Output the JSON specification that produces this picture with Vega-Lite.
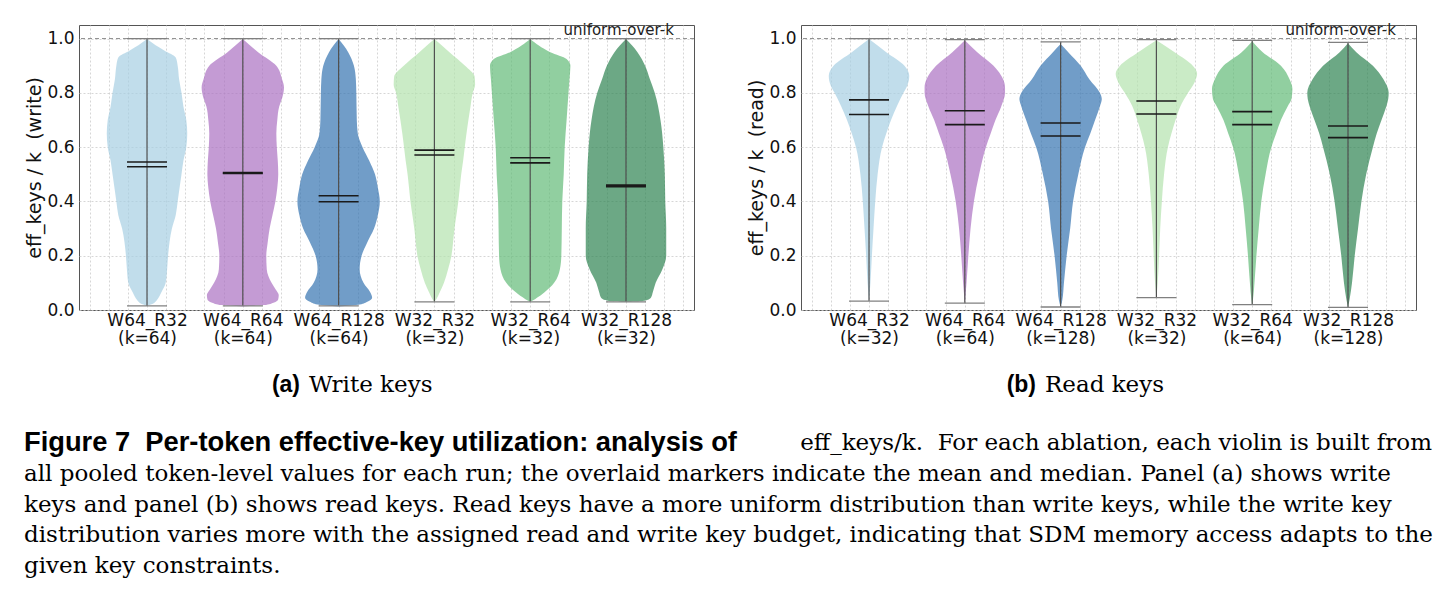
{
  "$schema": "https://vega.github.io/schema/vega-lite/v6.json",
  "background": "white",
  "padding": {"left": 24, "top": 22, "right": 0, "bottom": 0},
  "spacing": 0,
  "vconcat": [
    {
      "spacing": 0,
      "hconcat": [
        {
          "width": 1,
          "height": 285,
          "view": {"stroke": null},
          "data": {"values": []},
          "mark": "point"
        },
        {
          "spacing": 52,
          "hconcat": [
            {
              "width": 615,
              "height": 285,
              "resolve": {"axis": {"x": "independent"}},
              "layer": [
                {
                  "data": {"name": "writeDensity"},
                  "transform": [
                    {"lookup": "run", "from": {"data": {"name": "writeStats"}, "key": "run", "fields": ["g"]}},
                    {"calculate": "datum.g - datum.w", "as": "xl"},
                    {"calculate": "datum.g + datum.w", "as": "xr"}
                  ],
                  "mark": {"type": "area", "orient": "horizontal", "interpolate": "monotone", "fillOpacity": 0.7, "strokeWidth": 0},
                  "encoding": {
                    "y": {
                      "field": "v", "type": "quantitative",
                      "scale": {"domain": [0, 1.05], "nice": false, "zero": false},
                      "axis": {
                        "title": "eff_keys / k \u00a0(write)",
                        "values": [0, 0.05, 0.1, 0.15, 0.2, 0.25, 0.3, 0.35, 0.4, 0.45, 0.5, 0.55, 0.6, 0.65, 0.7, 0.75, 0.8, 0.85, 0.9, 0.95, 1.0],
                        "labelExpr": "abs(datum.value * 5 - round(datum.value * 5)) < 0.001 ? format(datum.value, '.1f') : ''",
                        "labelPadding": 5,
                        "titlePadding": 2
                      }
                    },
                    "x": {
                      "field": "xl", "type": "quantitative",
                      "scale": {"domain": [0.29, 6.71], "nice": false, "zero": false},
                      "axis": {
                        "orient": "bottom",
                        "title": null,
                        "values": [1, 2, 3, 4, 5, 6],
                        "labelExpr": "datum.value == 1 ? ['W64_R32', '(k=64)'] : datum.value == 2 ? ['W64_R64', '(k=64)'] : datum.value == 3 ? ['W64_R128', '(k=64)'] : datum.value == 4 ? ['W32_R32', '(k=32)'] : datum.value == 5 ? ['W32_R64', '(k=32)'] : ['W32_R128', '(k=32)']",
                        "labelPadding": 2,
                        "labelLineHeight": 18,
                        "labelOverlap": false,
                        "labelFlush": false
                      }
                    },
                    "x2": {"field": "xr"},
                    "color": {
                      "field": "run", "type": "nominal", "legend": null,
                      "scale": {
                        "domain": ["W64_R32", "W64_R64", "W64_R128", "W32_R32", "W32_R64", "W32_R128"],
                        "range": ["#a6cee3", "#ab70c2", "#3473b0", "#b3e2ae", "#63ba77", "#2d8351"]
                      }
                    }
                  }
                },
                {
                  "data": {"values": [{}]},
                  "mark": {"type": "rule", "color": "#8c8c8c", "strokeDash": [4, 3], "strokeWidth": 1},
                  "encoding": {"y": {"datum": 1}}
                },
                {
                  "data": {"values": [{}]},
                  "mark": {"type": "text", "align": "right", "baseline": "alphabetic", "dy": -4, "font": "DejaVu Sans", "fontSize": 15, "color": "#222222"},
                  "encoding": {"x": {"datum": 6.5, "axis": null}, "y": {"datum": 1}, "text": {"value": "uniform-over-k"}}
                },
                {
                  "data": {"name": "writeStats"},
                  "mark": {"type": "rule", "color": "#505050", "strokeWidth": 1.2},
                  "encoding": {
                    "x": {
                      "field": "g", "type": "quantitative",
                      "axis": {
                        "orient": "top", "title": null, "labels": false, "ticks": false, "domain": false, "grid": true,
                        "values": [0.4, 0.6, 0.8, 1.2, 1.4, 1.6, 1.8, 2.2, 2.4, 2.6, 2.8, 3.2, 3.4, 3.6, 3.8, 4.2, 4.4, 4.6, 4.8, 5.2, 5.4, 5.6, 5.8, 6.2, 6.4, 6.6]
                      }
                    },
                    "y": {"field": "min", "type": "quantitative"},
                    "y2": {"field": "max"}
                  }
                },
                {
                  "data": {"name": "writeStats"},
                  "mark": {"type": "tick", "orient": "horizontal", "size": 40, "thickness": 1.3, "color": "#808080", "opacity": 1},
                  "encoding": {"x": {"field": "g", "type": "quantitative", "axis": null}, "y": {"field": "min", "type": "quantitative"}}
                },
                {
                  "data": {"name": "writeStats"},
                  "mark": {"type": "tick", "orient": "horizontal", "size": 40, "thickness": 1.3, "color": "#808080", "opacity": 1},
                  "encoding": {"x": {"field": "g", "type": "quantitative", "axis": null}, "y": {"field": "max", "type": "quantitative"}}
                },
                {
                  "data": {"name": "writeStats"},
                  "mark": {"type": "tick", "orient": "horizontal", "size": 40, "thickness": 1.6, "color": "#1a1a1a", "opacity": 1},
                  "encoding": {"x": {"field": "g", "type": "quantitative", "axis": null}, "y": {"field": "mean", "type": "quantitative"}}
                },
                {
                  "data": {"name": "writeStats"},
                  "mark": {"type": "tick", "orient": "horizontal", "size": 40, "thickness": 1.6, "color": "#1a1a1a", "opacity": 1},
                  "encoding": {"x": {"field": "g", "type": "quantitative", "axis": null}, "y": {"field": "median", "type": "quantitative"}}
                }
              ]
            },
            {
              "width": 615,
              "height": 285,
              "resolve": {"axis": {"x": "independent"}},
              "layer": [
                {
                  "data": {"name": "readDensity"},
                  "transform": [
                    {"lookup": "run", "from": {"data": {"name": "readStats"}, "key": "run", "fields": ["g"]}},
                    {"calculate": "datum.g - datum.w", "as": "xl"},
                    {"calculate": "datum.g + datum.w", "as": "xr"}
                  ],
                  "mark": {"type": "area", "orient": "horizontal", "interpolate": "monotone", "fillOpacity": 0.7, "strokeWidth": 0},
                  "encoding": {
                    "y": {
                      "field": "v", "type": "quantitative",
                      "scale": {"domain": [0, 1.05], "nice": false, "zero": false},
                      "axis": {
                        "title": "eff_keys / k \u00a0(read)",
                        "values": [0, 0.05, 0.1, 0.15, 0.2, 0.25, 0.3, 0.35, 0.4, 0.45, 0.5, 0.55, 0.6, 0.65, 0.7, 0.75, 0.8, 0.85, 0.9, 0.95, 1.0],
                        "labelExpr": "abs(datum.value * 5 - round(datum.value * 5)) < 0.001 ? format(datum.value, '.1f') : ''",
                        "labelPadding": 5,
                        "titlePadding": 2
                      }
                    },
                    "x": {
                      "field": "xl", "type": "quantitative",
                      "scale": {"domain": [0.29, 6.71], "nice": false, "zero": false},
                      "axis": {
                        "orient": "bottom",
                        "title": null,
                        "values": [1, 2, 3, 4, 5, 6],
                        "labelExpr": "datum.value == 1 ? ['W64_R32', '(k=32)'] : datum.value == 2 ? ['W64_R64', '(k=64)'] : datum.value == 3 ? ['W64_R128', '(k=128)'] : datum.value == 4 ? ['W32_R32', '(k=32)'] : datum.value == 5 ? ['W32_R64', '(k=64)'] : ['W32_R128', '(k=128)']",
                        "labelPadding": 2,
                        "labelLineHeight": 18,
                        "labelOverlap": false,
                        "labelFlush": false
                      }
                    },
                    "x2": {"field": "xr"},
                    "color": {
                      "field": "run", "type": "nominal", "legend": null,
                      "scale": {
                        "domain": ["W64_R32", "W64_R64", "W64_R128", "W32_R32", "W32_R64", "W32_R128"],
                        "range": ["#a6cee3", "#ab70c2", "#3473b0", "#b3e2ae", "#63ba77", "#2d8351"]
                      }
                    }
                  }
                },
                {
                  "data": {"values": [{}]},
                  "mark": {"type": "rule", "color": "#8c8c8c", "strokeDash": [4, 3], "strokeWidth": 1},
                  "encoding": {"y": {"datum": 1}}
                },
                {
                  "data": {"values": [{}]},
                  "mark": {"type": "text", "align": "right", "baseline": "alphabetic", "dy": -4, "font": "DejaVu Sans", "fontSize": 15, "color": "#222222"},
                  "encoding": {"x": {"datum": 6.5, "axis": null}, "y": {"datum": 1}, "text": {"value": "uniform-over-k"}}
                },
                {
                  "data": {"name": "readStats"},
                  "mark": {"type": "rule", "color": "#505050", "strokeWidth": 1.2},
                  "encoding": {
                    "x": {
                      "field": "g", "type": "quantitative",
                      "axis": {
                        "orient": "top", "title": null, "labels": false, "ticks": false, "domain": false, "grid": true,
                        "values": [0.4, 0.6, 0.8, 1.2, 1.4, 1.6, 1.8, 2.2, 2.4, 2.6, 2.8, 3.2, 3.4, 3.6, 3.8, 4.2, 4.4, 4.6, 4.8, 5.2, 5.4, 5.6, 5.8, 6.2, 6.4, 6.6]
                      }
                    },
                    "y": {"field": "min", "type": "quantitative"},
                    "y2": {"field": "max"}
                  }
                },
                {
                  "data": {"name": "readStats"},
                  "mark": {"type": "tick", "orient": "horizontal", "size": 40, "thickness": 1.3, "color": "#808080", "opacity": 1},
                  "encoding": {"x": {"field": "g", "type": "quantitative", "axis": null}, "y": {"field": "min", "type": "quantitative"}}
                },
                {
                  "data": {"name": "readStats"},
                  "mark": {"type": "tick", "orient": "horizontal", "size": 40, "thickness": 1.3, "color": "#808080", "opacity": 1},
                  "encoding": {"x": {"field": "g", "type": "quantitative", "axis": null}, "y": {"field": "max", "type": "quantitative"}}
                },
                {
                  "data": {"name": "readStats"},
                  "mark": {"type": "tick", "orient": "horizontal", "size": 40, "thickness": 1.6, "color": "#1a1a1a", "opacity": 1},
                  "encoding": {"x": {"field": "g", "type": "quantitative", "axis": null}, "y": {"field": "mean", "type": "quantitative"}}
                },
                {
                  "data": {"name": "readStats"},
                  "mark": {"type": "tick", "orient": "horizontal", "size": 40, "thickness": 1.6, "color": "#1a1a1a", "opacity": 1},
                  "encoding": {"x": {"field": "g", "type": "quantitative", "axis": null}, "y": {"field": "median", "type": "quantitative"}}
                }
              ]
            }
          ]
        }
      ]
    },
    {
      "width": 1408,
      "height": 76,
      "view": {"stroke": null},
      "data": {"name": "subcaptions"},
      "encoding": {
        "x": {"field": "panel", "type": "nominal", "axis": null, "scale": {"type": "point", "padding": 0, "range": [280, 1016]}}
      },
      "layer": [
        {
          "mark": {"type": "text", "align": "right", "baseline": "middle", "dx": -4, "font": "Liberation Sans", "fontWeight": "bold", "fontSize": 23, "color": "#000000"},
          "encoding": {"text": {"field": "tag"}}
        },
        {
          "mark": {"type": "text", "align": "left", "baseline": "middle", "dx": 5, "font": "DejaVu Serif", "fontSize": 23, "color": "#000000"},
          "encoding": {"text": {"field": "name"}}
        }
      ]
    },
    {
      "width": 1408,
      "height": 163,
      "view": {"stroke": null},
      "data": {"name": "caption"},
      "encoding": {
        "y": {"field": "line", "type": "ordinal", "axis": null, "scale": {"type": "point", "padding": 0.65}}
      },
      "layer": [
        {
          "transform": [{"filter": "datum.part == 'head'"}],
          "mark": {"type": "text", "align": "left", "baseline": "middle", "font": "Liberation Sans", "fontWeight": "bold", "fontSize": 27.3, "color": "#000000"},
          "encoding": {"x": {"value": 0}, "text": {"field": "text"}}
        },
        {
          "transform": [{"filter": "datum.part == 'body'"}],
          "mark": {"type": "text", "align": "left", "baseline": "middle", "font": "DejaVu Serif", "fontSize": 23, "color": "#000000"},
          "encoding": {"x": {"value": 0}, "text": {"field": "text"}}
        },
        {
          "transform": [{"filter": "datum.part == 'tail'"}],
          "mark": {"type": "text", "align": "right", "baseline": "middle", "font": "DejaVu Serif", "fontSize": 23, "color": "#000000"},
          "encoding": {"x": {"value": "width"}, "text": {"field": "text"}}
        }
      ]
    }
  ],
  "datasets": {
    "writeStats": [
      {"run": "W64_R32", "k": 64, "g": 1, "mean": 0.545, "median": 0.528, "min": 0.015, "max": 1.0},
      {"run": "W64_R64", "k": 64, "g": 2, "mean": 0.506, "median": 0.503, "min": 0.015, "max": 1.0},
      {"run": "W64_R128", "k": 64, "g": 3, "mean": 0.421, "median": 0.399, "min": 0.015, "max": 1.0},
      {"run": "W32_R32", "k": 32, "g": 4, "mean": 0.571, "median": 0.589, "min": 0.03, "max": 1.0},
      {"run": "W32_R64", "k": 32, "g": 5, "mean": 0.542, "median": 0.561, "min": 0.03, "max": 1.0},
      {"run": "W32_R128", "k": 32, "g": 6, "mean": 0.454, "median": 0.46, "min": 0.03, "max": 1.0}
    ],
    "readStats": [
      {"run": "W64_R32", "k": 32, "g": 1, "mean": 0.72, "median": 0.774, "min": 0.033, "max": 1.0},
      {"run": "W64_R64", "k": 64, "g": 2, "mean": 0.683, "median": 0.734, "min": 0.025, "max": 0.996},
      {"run": "W64_R128", "k": 128, "g": 3, "mean": 0.641, "median": 0.689, "min": 0.011, "max": 0.988},
      {"run": "W32_R32", "k": 32, "g": 4, "mean": 0.722, "median": 0.77, "min": 0.0455, "max": 0.996},
      {"run": "W32_R64", "k": 64, "g": 5, "mean": 0.683, "median": 0.731, "min": 0.0197, "max": 0.993},
      {"run": "W32_R128", "k": 128, "g": 6, "mean": 0.635, "median": 0.678, "min": 0.01, "max": 0.986}
    ],
    "writeDensity": [
      {"run": "W64_R32", "v": 0.015, "w": 0}, {"run": "W64_R32", "v": 0.025, "w": 0.07}, {"run": "W64_R32", "v": 0.035, "w": 0.1},
      {"run": "W64_R32", "v": 0.065, "w": 0.15}, {"run": "W64_R32", "v": 0.1, "w": 0.195}, {"run": "W64_R32", "v": 0.15, "w": 0.21},
      {"run": "W64_R32", "v": 0.2, "w": 0.22}, {"run": "W64_R32", "v": 0.25, "w": 0.235}, {"run": "W64_R32", "v": 0.3, "w": 0.26},
      {"run": "W64_R32", "v": 0.35, "w": 0.3}, {"run": "W64_R32", "v": 0.4, "w": 0.32}, {"run": "W64_R32", "v": 0.45, "w": 0.34},
      {"run": "W64_R32", "v": 0.5, "w": 0.36}, {"run": "W64_R32", "v": 0.55, "w": 0.38}, {"run": "W64_R32", "v": 0.6, "w": 0.41},
      {"run": "W64_R32", "v": 0.65, "w": 0.42}, {"run": "W64_R32", "v": 0.7, "w": 0.41}, {"run": "W64_R32", "v": 0.75, "w": 0.38},
      {"run": "W64_R32", "v": 0.8, "w": 0.36}, {"run": "W64_R32", "v": 0.85, "w": 0.335}, {"run": "W64_R32", "v": 0.9, "w": 0.32},
      {"run": "W64_R32", "v": 0.93, "w": 0.3}, {"run": "W64_R32", "v": 0.956, "w": 0.18}, {"run": "W64_R32", "v": 0.975, "w": 0.09},
      {"run": "W64_R32", "v": 0.998, "w": 0},

      {"run": "W64_R64", "v": 0.013, "w": 0}, {"run": "W64_R64", "v": 0.018, "w": 0.22}, {"run": "W64_R64", "v": 0.027, "w": 0.32},
      {"run": "W64_R64", "v": 0.04, "w": 0.37}, {"run": "W64_R64", "v": 0.055, "w": 0.375}, {"run": "W64_R64", "v": 0.075, "w": 0.345},
      {"run": "W64_R64", "v": 0.1, "w": 0.3}, {"run": "W64_R64", "v": 0.15, "w": 0.25}, {"run": "W64_R64", "v": 0.2, "w": 0.245},
      {"run": "W64_R64", "v": 0.25, "w": 0.26}, {"run": "W64_R64", "v": 0.3, "w": 0.28}, {"run": "W64_R64", "v": 0.35, "w": 0.31},
      {"run": "W64_R64", "v": 0.4, "w": 0.34}, {"run": "W64_R64", "v": 0.45, "w": 0.36}, {"run": "W64_R64", "v": 0.5, "w": 0.37},
      {"run": "W64_R64", "v": 0.55, "w": 0.365}, {"run": "W64_R64", "v": 0.6, "w": 0.355}, {"run": "W64_R64", "v": 0.65, "w": 0.35},
      {"run": "W64_R64", "v": 0.7, "w": 0.36}, {"run": "W64_R64", "v": 0.75, "w": 0.38}, {"run": "W64_R64", "v": 0.78, "w": 0.41},
      {"run": "W64_R64", "v": 0.82, "w": 0.43}, {"run": "W64_R64", "v": 0.85, "w": 0.41}, {"run": "W64_R64", "v": 0.9, "w": 0.35},
      {"run": "W64_R64", "v": 0.95, "w": 0.16}, {"run": "W64_R64", "v": 0.998, "w": 0},

      {"run": "W64_R128", "v": 0.013, "w": 0}, {"run": "W64_R128", "v": 0.02, "w": 0.22}, {"run": "W64_R128", "v": 0.03, "w": 0.3},
      {"run": "W64_R128", "v": 0.045, "w": 0.35}, {"run": "W64_R128", "v": 0.065, "w": 0.33}, {"run": "W64_R128", "v": 0.1, "w": 0.26},
      {"run": "W64_R128", "v": 0.15, "w": 0.22}, {"run": "W64_R128", "v": 0.2, "w": 0.24}, {"run": "W64_R128", "v": 0.25, "w": 0.3},
      {"run": "W64_R128", "v": 0.3, "w": 0.37}, {"run": "W64_R128", "v": 0.35, "w": 0.41}, {"run": "W64_R128", "v": 0.4, "w": 0.43},
      {"run": "W64_R128", "v": 0.45, "w": 0.41}, {"run": "W64_R128", "v": 0.5, "w": 0.38}, {"run": "W64_R128", "v": 0.55, "w": 0.32},
      {"run": "W64_R128", "v": 0.6, "w": 0.25}, {"run": "W64_R128", "v": 0.65, "w": 0.2}, {"run": "W64_R128", "v": 0.7, "w": 0.19},
      {"run": "W64_R128", "v": 0.8, "w": 0.185}, {"run": "W64_R128", "v": 0.85, "w": 0.18}, {"run": "W64_R128", "v": 0.9, "w": 0.16},
      {"run": "W64_R128", "v": 0.95, "w": 0.1}, {"run": "W64_R128", "v": 0.998, "w": 0},

      {"run": "W32_R32", "v": 0.03, "w": 0}, {"run": "W32_R32", "v": 0.04, "w": 0.02}, {"run": "W32_R32", "v": 0.065, "w": 0.056},
      {"run": "W32_R32", "v": 0.1, "w": 0.1}, {"run": "W32_R32", "v": 0.15, "w": 0.143}, {"run": "W32_R32", "v": 0.2, "w": 0.178},
      {"run": "W32_R32", "v": 0.25, "w": 0.195}, {"run": "W32_R32", "v": 0.3, "w": 0.21}, {"run": "W32_R32", "v": 0.35, "w": 0.23},
      {"run": "W32_R32", "v": 0.4, "w": 0.25}, {"run": "W32_R32", "v": 0.45, "w": 0.265}, {"run": "W32_R32", "v": 0.5, "w": 0.28},
      {"run": "W32_R32", "v": 0.55, "w": 0.3}, {"run": "W32_R32", "v": 0.6, "w": 0.317}, {"run": "W32_R32", "v": 0.65, "w": 0.335},
      {"run": "W32_R32", "v": 0.7, "w": 0.355}, {"run": "W32_R32", "v": 0.75, "w": 0.377}, {"run": "W32_R32", "v": 0.8, "w": 0.4},
      {"run": "W32_R32", "v": 0.83, "w": 0.425}, {"run": "W32_R32", "v": 0.86, "w": 0.42}, {"run": "W32_R32", "v": 0.9, "w": 0.32},
      {"run": "W32_R32", "v": 0.95, "w": 0.157}, {"run": "W32_R32", "v": 0.998, "w": 0},

      {"run": "W32_R64", "v": 0.03, "w": 0}, {"run": "W32_R64", "v": 0.04, "w": 0.05}, {"run": "W32_R64", "v": 0.065, "w": 0.15},
      {"run": "W32_R64", "v": 0.1, "w": 0.25}, {"run": "W32_R64", "v": 0.15, "w": 0.31}, {"run": "W32_R64", "v": 0.2, "w": 0.325},
      {"run": "W32_R64", "v": 0.3, "w": 0.33}, {"run": "W32_R64", "v": 0.4, "w": 0.335}, {"run": "W32_R64", "v": 0.5, "w": 0.35},
      {"run": "W32_R64", "v": 0.6, "w": 0.36}, {"run": "W32_R64", "v": 0.7, "w": 0.38}, {"run": "W32_R64", "v": 0.8, "w": 0.4},
      {"run": "W32_R64", "v": 0.85, "w": 0.41}, {"run": "W32_R64", "v": 0.9, "w": 0.42}, {"run": "W32_R64", "v": 0.925, "w": 0.38},
      {"run": "W32_R64", "v": 0.95, "w": 0.21}, {"run": "W32_R64", "v": 0.998, "w": 0},

      {"run": "W32_R128", "v": 0.03, "w": 0}, {"run": "W32_R128", "v": 0.032, "w": 0.15}, {"run": "W32_R128", "v": 0.037, "w": 0.22},
      {"run": "W32_R128", "v": 0.045, "w": 0.26}, {"run": "W32_R128", "v": 0.065, "w": 0.28}, {"run": "W32_R128", "v": 0.1, "w": 0.31},
      {"run": "W32_R128", "v": 0.15, "w": 0.38}, {"run": "W32_R128", "v": 0.2, "w": 0.42}, {"run": "W32_R128", "v": 0.3, "w": 0.42},
      {"run": "W32_R128", "v": 0.4, "w": 0.41}, {"run": "W32_R128", "v": 0.5, "w": 0.405}, {"run": "W32_R128", "v": 0.6, "w": 0.39},
      {"run": "W32_R128", "v": 0.7, "w": 0.36}, {"run": "W32_R128", "v": 0.8, "w": 0.3}, {"run": "W32_R128", "v": 0.85, "w": 0.25},
      {"run": "W32_R128", "v": 0.9, "w": 0.2}, {"run": "W32_R128", "v": 0.95, "w": 0.12}, {"run": "W32_R128", "v": 0.998, "w": 0}
    ],
    "readDensity": [
      {"run": "W64_R32", "v": 0.033, "w": 0}, {"run": "W64_R32", "v": 0.1, "w": 0.015}, {"run": "W64_R32", "v": 0.2, "w": 0.03},
      {"run": "W64_R32", "v": 0.3, "w": 0.047}, {"run": "W64_R32", "v": 0.4, "w": 0.065}, {"run": "W64_R32", "v": 0.5, "w": 0.09},
      {"run": "W64_R32", "v": 0.6, "w": 0.136}, {"run": "W64_R32", "v": 0.65, "w": 0.18}, {"run": "W64_R32", "v": 0.7, "w": 0.23},
      {"run": "W64_R32", "v": 0.75, "w": 0.29}, {"run": "W64_R32", "v": 0.8, "w": 0.36}, {"run": "W64_R32", "v": 0.827, "w": 0.4},
      {"run": "W64_R32", "v": 0.863, "w": 0.42}, {"run": "W64_R32", "v": 0.9, "w": 0.37}, {"run": "W64_R32", "v": 0.95, "w": 0.18},
      {"run": "W64_R32", "v": 0.998, "w": 0},

      {"run": "W64_R64", "v": 0.025, "w": 0}, {"run": "W64_R64", "v": 0.1, "w": 0.018}, {"run": "W64_R64", "v": 0.2, "w": 0.037},
      {"run": "W64_R64", "v": 0.3, "w": 0.06}, {"run": "W64_R64", "v": 0.4, "w": 0.095}, {"run": "W64_R64", "v": 0.5, "w": 0.15},
      {"run": "W64_R64", "v": 0.6, "w": 0.22}, {"run": "W64_R64", "v": 0.65, "w": 0.27}, {"run": "W64_R64", "v": 0.7, "w": 0.32},
      {"run": "W64_R64", "v": 0.75, "w": 0.38}, {"run": "W64_R64", "v": 0.8, "w": 0.42}, {"run": "W64_R64", "v": 0.82, "w": 0.42},
      {"run": "W64_R64", "v": 0.85, "w": 0.4}, {"run": "W64_R64", "v": 0.9, "w": 0.3}, {"run": "W64_R64", "v": 0.95, "w": 0.13},
      {"run": "W64_R64", "v": 0.994, "w": 0},

      {"run": "W64_R128", "v": 0.011, "w": 0}, {"run": "W64_R128", "v": 0.035, "w": 0.017}, {"run": "W64_R128", "v": 0.1, "w": 0.035},
      {"run": "W64_R128", "v": 0.2, "w": 0.063}, {"run": "W64_R128", "v": 0.3, "w": 0.1}, {"run": "W64_R128", "v": 0.4, "w": 0.13},
      {"run": "W64_R128", "v": 0.5, "w": 0.185}, {"run": "W64_R128", "v": 0.6, "w": 0.255}, {"run": "W64_R128", "v": 0.65, "w": 0.31},
      {"run": "W64_R128", "v": 0.7, "w": 0.36}, {"run": "W64_R128", "v": 0.75, "w": 0.41}, {"run": "W64_R128", "v": 0.777, "w": 0.43},
      {"run": "W64_R128", "v": 0.8, "w": 0.41}, {"run": "W64_R128", "v": 0.85, "w": 0.3}, {"run": "W64_R128", "v": 0.9, "w": 0.21},
      {"run": "W64_R128", "v": 0.95, "w": 0.08}, {"run": "W64_R128", "v": 0.98, "w": 0},

      {"run": "W32_R32", "v": 0.0455, "w": 0}, {"run": "W32_R32", "v": 0.1, "w": 0.014}, {"run": "W32_R32", "v": 0.2, "w": 0.028},
      {"run": "W32_R32", "v": 0.3, "w": 0.04}, {"run": "W32_R32", "v": 0.4, "w": 0.057}, {"run": "W32_R32", "v": 0.5, "w": 0.08},
      {"run": "W32_R32", "v": 0.6, "w": 0.12}, {"run": "W32_R32", "v": 0.65, "w": 0.157}, {"run": "W32_R32", "v": 0.7, "w": 0.2},
      {"run": "W32_R32", "v": 0.75, "w": 0.25}, {"run": "W32_R32", "v": 0.8, "w": 0.33}, {"run": "W32_R32", "v": 0.84, "w": 0.4},
      {"run": "W32_R32", "v": 0.87, "w": 0.425}, {"run": "W32_R32", "v": 0.9, "w": 0.38}, {"run": "W32_R32", "v": 0.95, "w": 0.19},
      {"run": "W32_R32", "v": 0.994, "w": 0},

      {"run": "W32_R64", "v": 0.02, "w": 0}, {"run": "W32_R64", "v": 0.035, "w": 0.007}, {"run": "W32_R64", "v": 0.1, "w": 0.024},
      {"run": "W32_R64", "v": 0.2, "w": 0.044}, {"run": "W32_R64", "v": 0.3, "w": 0.068}, {"run": "W32_R64", "v": 0.4, "w": 0.095},
      {"run": "W32_R64", "v": 0.5, "w": 0.14}, {"run": "W32_R64", "v": 0.6, "w": 0.2}, {"run": "W32_R64", "v": 0.65, "w": 0.25},
      {"run": "W32_R64", "v": 0.7, "w": 0.3}, {"run": "W32_R64", "v": 0.75, "w": 0.37}, {"run": "W32_R64", "v": 0.777, "w": 0.41},
      {"run": "W32_R64", "v": 0.814, "w": 0.42}, {"run": "W32_R64", "v": 0.85, "w": 0.39}, {"run": "W32_R64", "v": 0.9, "w": 0.3},
      {"run": "W32_R64", "v": 0.95, "w": 0.11}, {"run": "W32_R64", "v": 0.99, "w": 0},

      {"run": "W32_R128", "v": 0.01, "w": 0}, {"run": "W32_R128", "v": 0.04, "w": 0.017}, {"run": "W32_R128", "v": 0.1, "w": 0.042},
      {"run": "W32_R128", "v": 0.2, "w": 0.07}, {"run": "W32_R128", "v": 0.3, "w": 0.105}, {"run": "W32_R128", "v": 0.4, "w": 0.14},
      {"run": "W32_R128", "v": 0.5, "w": 0.19}, {"run": "W32_R128", "v": 0.6, "w": 0.26}, {"run": "W32_R128", "v": 0.65, "w": 0.3},
      {"run": "W32_R128", "v": 0.7, "w": 0.35}, {"run": "W32_R128", "v": 0.75, "w": 0.4}, {"run": "W32_R128", "v": 0.777, "w": 0.42},
      {"run": "W32_R128", "v": 0.8, "w": 0.425}, {"run": "W32_R128", "v": 0.85, "w": 0.37}, {"run": "W32_R128", "v": 0.9, "w": 0.26},
      {"run": "W32_R128", "v": 0.95, "w": 0.087}, {"run": "W32_R128", "v": 0.983, "w": 0}
    ],
    "subcaptions": [
      {"panel": "a", "tag": "(a)", "name": "Write keys"},
      {"panel": "b", "tag": "(b)", "name": "Read keys"}
    ],
    "caption": [
      {"line": 1, "part": "head", "text": "Figure 7\u00a0\u00a0Per-token effective-key utilization: analysis of"},
      {"line": 1, "part": "tail", "text": "eff_keys/k.\u00a0\u00a0For each ablation, each violin is built from"},
      {"line": 2, "part": "body", "text": "all pooled token-level values for each run; the overlaid markers indicate the mean and median. Panel (a) shows write"},
      {"line": 3, "part": "body", "text": "keys and panel (b) shows read keys. Read keys have a more uniform distribution than write keys, while the write key"},
      {"line": 4, "part": "body", "text": "distribution varies more with the assigned read and write key budget, indicating that SDM memory access adapts to the"},
      {"line": 5, "part": "body", "text": "given key constraints."}
    ]
  },
  "config": {
    "view": {"stroke": "#555555", "strokeWidth": 1},
    "axis": {
      "labelFont": "DejaVu Sans", "labelFontSize": 17, "labelColor": "#111111",
      "titleFont": "DejaVu Sans", "titleFontSize": 19, "titleFontWeight": "normal", "titleColor": "#111111",
      "grid": true, "gridColor": "#cccccc", "gridDash": [2, 2], "gridWidth": 0.8,
      "domain": false, "ticks": false, "labelOverlap": false
    }
  }
}
